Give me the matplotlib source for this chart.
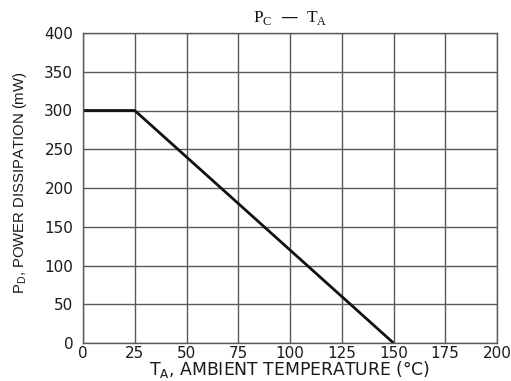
import matplotlib
matplotlib.use("Agg")
import matplotlib.pyplot as plt

temps = [0, 25, 150]
power = [300, 300, 0]
xticks = [0, 25, 50, 75, 100, 125, 150, 175, 200]
yticks = [0, 50, 100, 150, 200, 250, 300, 350, 400]

fig = plt.figure(figsize=(5.11, 3.81), dpi=100)
ax = fig.add_axes([83/511, 1-343/381, (497-83)/511, (343-33)/381])
ax.set_xlim(0, 200)
ax.set_ylim(0, 400)
ax.set_xticks(xticks)
ax.set_yticks(yticks)
ax.grid(True, color="#5a5a5a", linewidth=1.0)
ax.set_axisbelow(True)
for s in ax.spines.values():
    s.set_color("#5a5a5a")
    s.set_linewidth(1.0)
ax.plot(temps, power, color="#111111", linewidth=2.0, solid_capstyle="butt", clip_on=False)
ax.tick_params(axis="x", length=0, pad=2, labelsize=11, colors="#1a1a1a")
ax.tick_params(axis="y", length=0, pad=7, labelsize=11, colors="#1a1a1a")
for lab in ax.get_xticklabels() + ax.get_yticklabels():
    lab.set_family("DejaVu Sans")
fig.text(290/511, 1-370/381, r"T$_\mathregular{A}$, AMBIENT TEMPERATURE (°C)", family="DejaVu Sans",
         fontsize=12.4, color="#1a1a1a", ha="center", va="center")
fig.text(20/511, 1-183/381, r"P$_\mathregular{D}$, POWER DISSIPATION (mW)", family="Liberation Sans",
         fontsize=10.7, color="#1a1a1a", ha="center", va="center", rotation=90)
fig.text(290/511, 1-18/381, r"P$_\mathregular{C}$  —  T$_\mathregular{A}$", family="Liberation Serif",
         fontsize=12.5, ha="center", va="center", color="#111111")
fig.savefig("out.png", dpi=100)
